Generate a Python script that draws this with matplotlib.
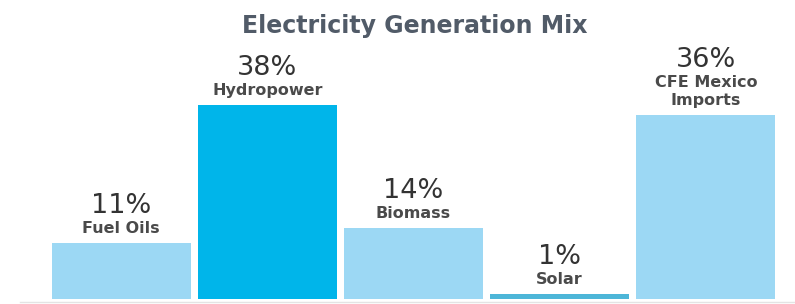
import numpy as np
import matplotlib.pyplot as plt
from matplotlib.lines import Line2D

categories = ["Fuel Oils", "Hydropower", "Biomass", "Solar", "CFE Mexico\nImports"]
shares = [11, 38, 14, 1, 36]
labels = ["11%", "38%", "14%", "1%", "36%"]
colors = ["#9cd8f4", "#00b5ea", "#9cd8f4", "#4db6d8", "#9cd8f4"]

plt.rcParams["font.family"] = ["DejaVu Sans"]

fig = plt.figure(figsize=(7.95, 3.04), dpi=100)
ax = fig.add_axes([48 / 795, 5 / 304, 731 / 795, 294 / 304])

x = np.arange(len(categories))
bars = ax.bar(x, shares, width=0.95, color=colors)
ax.set_xlim(-0.5, len(categories) - 0.5)
ax.set_ylim(0, 57.6)
ax.axis("off")

for rect, cat, lab in zip(bars, categories, labels):
    cx = rect.get_x() + rect.get_width() / 2
    top = rect.get_height()
    t = ax.annotate(cat, xy=(cx, top), xytext=(0, 5), textcoords="offset points",
                    ha="center", va="bottom", fontsize=11.5, fontweight="bold",
                    color="#4a4a4a", linespacing=1.3)
    ax.annotate(lab, xy=(0.5, 1), xycoords=t, xytext=(0, 1.5), textcoords="offset points",
                ha="center", va="bottom", fontsize=19.5, color="#333333")

fig.add_artist(Line2D([20 / 795, 1.0], [2 / 304, 2 / 304], color="#e4e4e4", lw=1))
fig.text(415 / 795, 1 - 26 / 304, "Electricity Generation Mix", ha="center", va="center",
         fontsize=17, fontweight="bold", color="#515b68")

fig.savefig("out.png", dpi=100)
